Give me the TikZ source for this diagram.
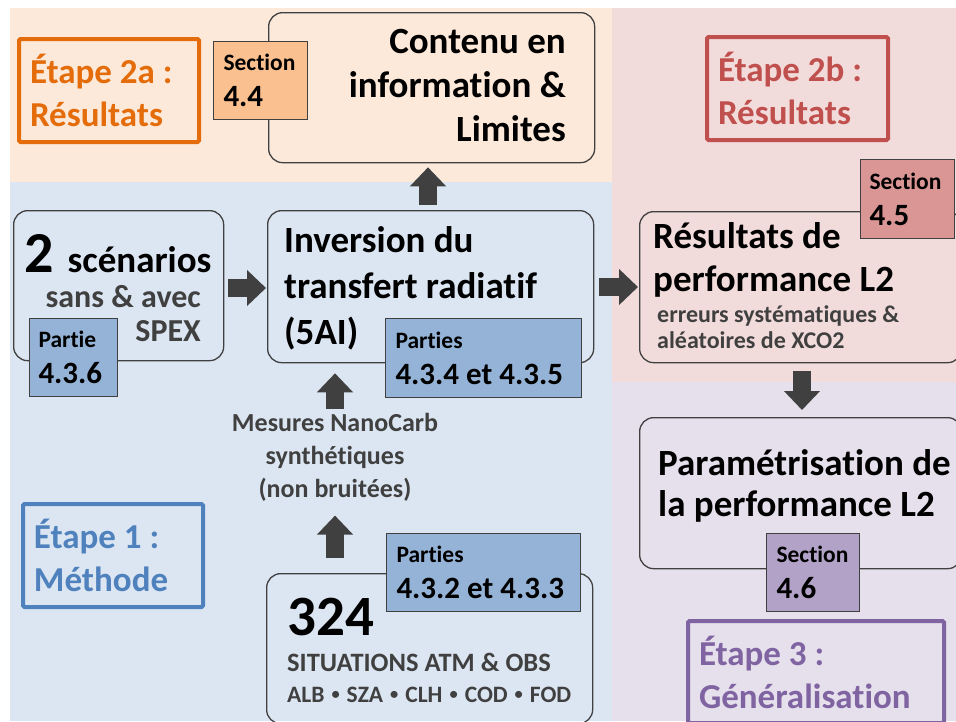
\documentclass[tikz,border=0pt]{standalone}
\usepackage{fontspec}
\setmainfont{Carlito}[Ligatures=NoCommon]
\usetikzlibrary{arrows.meta}

\definecolor{PeachBg}{HTML}{FDE9D9}
\definecolor{BlueBg}{HTML}{DCE6F2}
\definecolor{PinkBg}{HTML}{F2DCDB}
\definecolor{LavBg}{HTML}{E5E0EC}
\definecolor{BoxLine}{HTML}{404040}
\definecolor{ArrowGray}{HTML}{404040}
\definecolor{TextGray}{HTML}{404040}
\definecolor{TagOrange}{HTML}{FAC090}
\definecolor{TagPink}{HTML}{D99694}
\definecolor{TagBlue}{HTML}{95B3D7}
\definecolor{TagPurple}{HTML}{B3A2C7}
\definecolor{EtapeOrange}{HTML}{E46C0A}
\definecolor{EtapeRed}{HTML}{C0504D}
\definecolor{EtapeBlue}{HTML}{4F81BD}
\definecolor{EtapePurple}{HTML}{8064A2}

\newcommand{\BigFont}{\fontsize{37}{45}\selectfont\bfseries}
\newcommand{\EtapeFont}{\fontsize{35}{43}\selectfont\bfseries}
\newcommand{\TagFont}{\fontsize{23.5}{36}\selectfont\bfseries}
\newcommand{\TagNum}{\fontsize{31}{36}\selectfont}
\newcommand{\VarSep}{\hspace{7pt}\raisebox{3pt}{\scalebox{0.7}{•}}\hspace{7pt}}

\tikzset{
    mainbox/.style={draw=BoxLine, line width=1.3pt, rounded corners=14pt,
        inner sep=0pt, anchor=north west},
    tagbox/.style={draw=BoxLine, line width=1pt, inner sep=0pt, inner xsep=10pt,
        anchor=north west, align=flush left, font=\TagFont},
    etapebox/.style={draw=#1, text=#1, line width=4pt, rounded corners=1.5pt,
        inner sep=0pt, inner xsep=11pt, anchor=north west, align=flush left,
        font=\EtapeFont},
    blockarrow/.style={draw=ArrowGray, line width=18pt,
        -{Triangle[length=19pt,width=35pt]}},
    boxtext/.style={inner sep=0pt, font=\BigFont}
}

\begin{document}
\begin{tikzpicture}[x=1pt,y=-1pt]

\useasboundingbox (0,0) rectangle (956,721);

% =====================================================
% BACKGROUND AREAS
% =====================================================
\fill[PeachBg] (10,8) rectangle (612,182);
\fill[BlueBg] (10,182) rectangle (612,721);
\fill[PinkBg] (612,8) rectangle (956,382);
\fill[LavBg] (612,382) rectangle (956,721);

% =====================================================
% ETAPE 2a : CONTENU EN INFORMATION
% =====================================================
\node[etapebox=EtapeOrange, minimum width=180pt, minimum height=103pt,
    text width=158pt] (etapeA) at (17,37) {Étape 2a :\\Résultats};

\node[mainbox, minimum width=326pt, minimum height=150pt] (contenu) at (268,12) {};
\node[boxtext, anchor=north east, align=right,
    font=\fontsize{37}{44}\selectfont\bfseries] (contenuTxt) at (566,29)
    {Contenu en\\information \&\\Limites};

\node[tagbox, fill=TagOrange, minimum width=94pt, minimum height=78pt,
    text width=74pt] (sec44) at (213,41) {Section\\{\TagNum 4.4}};

% =====================================================
% ETAPE 1 : METHODE
% =====================================================
\node[etapebox=EtapeBlue, minimum width=180pt, minimum height=103pt,
    text width=158pt] (etapeB) at (21,502) {Étape 1 :\\Méthode};

% Scenarios box
\node[mainbox, minimum width=210pt, minimum height=150pt] (scen) at (13,210) {};
\node[boxtext, anchor=base west] (scenTxt) at (24,272)
    {{\fontsize{58}{60}\selectfont 2}\hspace{14pt}scénarios};
\node[boxtext, anchor=north east, align=right, text=TextGray,
    font=\fontsize{32}{34}\selectfont\bfseries] (scenSub) at (201,285)
    {sans \& avec\\SPEX};
\node[tagbox, fill=TagBlue, minimum width=88pt, minimum height=78pt,
    text width=70pt, inner xsep=9pt] (part436) at (29,318) {Partie\\{\TagNum 4.3.6}};

% Inversion box
\node[mainbox, minimum width=326pt, minimum height=152pt] (inv) at (267,210) {};
\node[boxtext, anchor=north west, align=left,
    font=\fontsize{37}{46}\selectfont\bfseries] (invTxt) at (284,226)
    {Inversion du\\transfert radiatif\\(5AI)};
\node[tagbox, fill=TagBlue, minimum width=196pt, minimum height=79pt,
    text width=176pt] (part434) at (385,318) {Parties\\{\TagNum 4.3.4 et 4.3.5}};

% Synthetic measurements
\node[inner sep=0pt, anchor=north, align=center, text=TextGray,
    font=\fontsize{26}{33}\selectfont\bfseries] (mesures) at (335,413)
    {Mesures NanoCarb\\synthétiques\\(non bruitées)};

% Situations box
\node[mainbox, minimum width=326pt, minimum height=150pt] (situ) at (266,573) {};
\node[boxtext, anchor=base west, font=\fontsize{57}{60}\selectfont\bfseries]
    (situNum) at (287,635) {324};
\node[boxtext, anchor=base west, text=TextGray,
    font=\fontsize{26.5}{30}\selectfont\bfseries] (situTxt) at (287,671)
    {SITUATIONS ATM \& OBS};
\node[boxtext, anchor=base west, text=TextGray,
    font=\fontsize{23.5}{30}\selectfont\bfseries] (situVar) at (287,702)
    {ALB\VarSep SZA\VarSep CLH\VarSep COD\VarSep FOD};
\node[tagbox, fill=TagBlue, minimum width=194pt, minimum height=78pt,
    text width=174pt] (part432) at (386,533) {Parties\\{\TagNum 4.3.2 et 4.3.3}};

% =====================================================
% ETAPE 2b : PERFORMANCE L2
% =====================================================
\node[etapebox=EtapeRed, minimum width=181pt, minimum height=103pt,
    text width=159pt] (etapeC) at (705,35) {Étape 2b :\\Résultats};

\node[mainbox, minimum width=322pt, minimum height=151pt] (perf) at (639,211) {};
\node[boxtext, anchor=north west, align=left,
    font=\fontsize{37}{43}\selectfont\bfseries] (perfTxt) at (653,222)
    {Résultats de\\performance L2};
\node[boxtext, anchor=north west, align=left, text=TextGray,
    font=\fontsize{24}{26}\selectfont\bfseries] (perfSub) at (657,305)
    {erreurs systématiques \&\\aléatoires de XCO2};
\node[tagbox, fill=TagPink, minimum width=94pt, minimum height=79pt,
    text width=76pt, inner xsep=9pt] (sec45) at (860,159) {Section\\{\TagNum 4.5}};

% =====================================================
% ETAPE 3 : GENERALISATION
% =====================================================
\node[mainbox, minimum width=322pt, minimum height=151pt] (param) at (639,417) {};
\node[boxtext, anchor=north west, align=left,
    font=\fontsize{37}{41}\selectfont\bfseries] (paramTxt) at (658,449)
    {Paramétrisation de\\la performance L2};
\node[tagbox, fill=TagPurple, minimum width=93pt, minimum height=78pt,
    text width=73pt] (sec46) at (766,533) {Section\\{\TagNum 4.6}};

\node[etapebox=EtapePurple, minimum width=256pt, minimum height=102pt,
    text width=234pt] (etapeD) at (686,619) {Étape 3 :\\Généralisation};

% =====================================================
% BLOCK ARROWS
% =====================================================
\draw[blockarrow, shorten <=4pt, shorten >=1pt]
    (scen.east |- 0,288) -- (inv.west |- 0,288);
\draw[blockarrow, shorten <=5pt, shorten >=1pt]
    (inv.east |- 0,287) -- (perf.west |- 0,287);
\draw[blockarrow, shorten <=5pt, shorten >=4pt]
    (inv.north -| 428,0) -- (contenu.south -| 428,0);
\draw[blockarrow, shorten <=8pt, shorten >=7pt]
    (perf.south -| 802,0) -- (param.north -| 802,0);
\draw[blockarrow, shorten <=4pt, shorten >=10pt]
    (mesures.north) -- (mesures.north |- inv.south);
\draw[blockarrow, shorten <=15pt, shorten >=14pt]
    (mesures.south |- situ.north) -- (mesures.south);

\end{tikzpicture}
\end{document}
